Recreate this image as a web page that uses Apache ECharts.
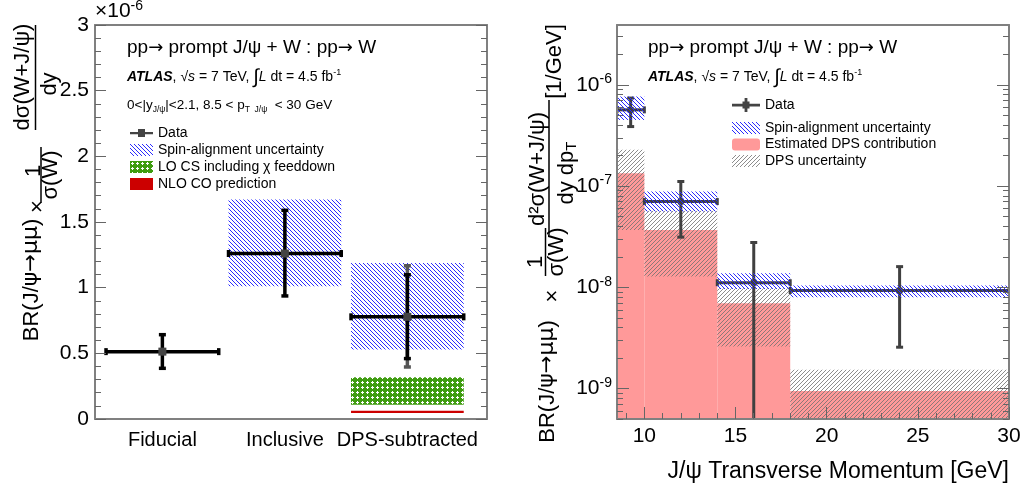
<!DOCTYPE html>
<html>
<head>
<meta charset="utf-8">
<script src="https://cdn.jsdelivr.net/npm/echarts@6/dist/echarts.min.js"></script>
<style>
  html, body { margin: 0; padding: 0; background: #fff; }
  #chart { width: 1023px; height: 493px; }
</style>
</head>
<body>
<div id="chart"></div>
<script>
const FONT = '"Liberation Sans", Arial, Helvetica, sans-serif';
const ARROW_FONT = '"DejaVu Sans", sans-serif';

// left panel: ratio per selection
const categories = ['Fiducial', 'Inclusive', 'DPS-subtracted'];
const catX = [0.55, 1.55, 2.55];
const catHalf = 0.46;
const ratio = [0.513, 1.26, 0.778];
const ratioLo = [0.386, 0.937, 0.46];
const ratioHi = [0.642, 1.589, 1.098];
const ratioTotLo = [null, null, 0.396];
const ratioTotHi = [null, null, 1.167];
const spinLoL = [null, 1.01, 0.53];
const spinHiL = [null, 1.672, 1.187];
const loCsLo = [null, null, 0.108];
const loCsHi = [null, null, 0.318];
const nloLo = [null, null, 0.045];
const nloHi = [null, null, 0.063];

// right panel: differential in pT
const ptLo = [8.5, 10, 14, 18];
const ptHi = [10, 14, 18, 30];
const ptMid = [9.25, 12, 16, 24];
const xs = [5.66e-7, 7.03e-8, 1.11e-8, 9.3e-9];
const xsLo = [3.87e-7, 3.13e-8, 1e-10, 2.56e-9];
const xsHi = [7.4e-7, 1.11e-7, 2.77e-8, 1.6e-8];
const spinLoR = [4.5e-7, 5.6e-8, 9.64e-9, 7.98e-9];
const spinHiR = [7.67e-7, 8.83e-8, 1.38e-8, 1.04e-8];
const dps = [1.34e-7, 3.69e-8, 6.97e-9, 9.46e-10];
const dpsLo = [3.69e-8, 1.28e-8, 2.6e-9, 3e-10];
const dpsHi = [2.28e-7, 5.7e-8, 9.8e-9, 1.53e-9];

// tick labels
const ptLabels = [10, 15, 20, 25, 30];
const ptMinor = [9, 11, 12, 13, 14, 16, 17, 18, 19, 21, 22, 23, 24, 26, 27, 28, 29];
const logLabels = [1e-9, 1e-8, 1e-7, 1e-6];
const logMinor = [];
[1e-10, 1e-9, 1e-8, 1e-7, 1e-6].forEach(d => {
  [2, 3, 4, 5, 6, 7, 8, 9].forEach(k => logMinor.push(k * d));
});

// fill patterns
function hatch(color, back, lw) {
  const c = document.createElement('canvas');
  c.width = c.height = 4;
  const g = c.getContext('2d');
  g.strokeStyle = color;
  g.lineWidth = lw;
  g.beginPath();
  if (back) {
    g.moveTo(-1, -1); g.lineTo(5, 5);
    g.moveTo(-1, 3); g.lineTo(1, 5);
    g.moveTo(3, -1); g.lineTo(5, 1);
  } else {
    g.moveTo(-1, 5); g.lineTo(5, -1);
    g.moveTo(-1, 1); g.lineTo(1, -1);
    g.moveTo(3, 5); g.lineTo(5, 3);
  }
  g.stroke();
  return { image: c, repeat: 'repeat' };
}
function dots() {
  const c = document.createElement('canvas');
  c.width = c.height = 5;
  const g = c.getContext('2d');
  g.fillStyle = '#3f9c10';
  g.fillRect(0, 0, 5, 5);
  g.fillStyle = '#ffffff';
  g.fillRect(2, 1, 1, 3);
  g.fillRect(1, 2, 3, 1);
  return { image: c, repeat: 'repeat' };
}
const blueHatch = hatch('#2a2aff', true, 1);
const grayHatch = hatch('#707070', false, 0.8);
const greenDots = dots();
const dpsRed = '#ff9999';
const nloRed = '#cc0000';

const frame = { show: true, onZero: false, lineStyle: { color: '#808080', width: 2 } };
const tickLine = { color: '#666', width: 1 };

// boxes [x0, x1, y0, y1]
function boxSeries(name, xi, yi, rows, fill, z) {
  return {
    name: name, type: 'custom', xAxisIndex: xi, yAxisIndex: yi, z: z, clip: true, silent: true,
    itemStyle: { color: fill },
    encode: { x: [0, 1], y: [2, 3] },
    data: rows,
    renderItem: function (params, api) {
      const a = api.coord([api.value(0), api.value(3)]);
      const b = api.coord([api.value(1), api.value(2)]);
      return { type: 'rect', shape: { x: a[0], y: a[1], width: b[0] - a[0], height: b[1] - a[1] }, style: { fill: fill } };
    }
  };
}

// points with error bars [xc, y, x0, x1, lo, hi]
function errSeries(name, xi, yi, rows, o) {
  return {
    name: name, type: 'custom', xAxisIndex: xi, yAxisIndex: yi, z: o.z, clip: true, silent: true,
    itemStyle: { color: o.color },
    encode: { x: [0, 2, 3], y: [1, 4, 5] },
    data: rows,
    renderItem: function (params, api) {
      const c = api.coord([api.value(0), api.value(1)]);
      const l = api.coord([api.value(2), api.value(1)]);
      const r = api.coord([api.value(3), api.value(1)]);
      const t = api.coord([api.value(0), api.value(5)]);
      const b = api.coord([api.value(0), api.value(4)]);
      const k = o.cap;
      const seg = (x1, y1, x2, y2) => ({ type: 'line', shape: { x1, y1, x2, y2 }, style: { stroke: o.color, lineWidth: o.lw } });
      const kids = [
        seg(c[0], t[1], c[0], b[1]),
        seg(c[0] - k, t[1], c[0] + k, t[1]),
        seg(c[0] - k, b[1], c[0] + k, b[1])
      ];
      if (o.horiz) {
        kids.push(seg(l[0], c[1], r[0], c[1]));
        kids.push(seg(l[0], c[1] - k, l[0], c[1] + k));
        kids.push(seg(r[0], c[1] - k, r[0], c[1] + k));
      }
      if (o.marker) {
        const m = o.marker;
        kids.push({ type: 'rect', shape: { x: c[0] - m / 2, y: c[1] - m / 2, width: m, height: m }, style: { fill: o.markerColor } });
      }
      return { type: 'group', children: kids };
    }
  };
}

const pick = (lo, hi) => catX.map((x, i) => lo[i] == null ? null : [x - catHalf, x + catHalf, lo[i], hi[i]]).filter(Boolean);

const leftData = catX.map((x, i) => [x, ratio[i], x - catHalf, x + catHalf, ratioLo[i], ratioHi[i]]);
const leftTot = catX.map((x, i) => ratioTotLo[i] == null ? null : [x, ratio[i], x, x, ratioTotLo[i], ratioTotHi[i]]).filter(Boolean);
const rightData = ptMid.map((x, i) => [x, xs[i], ptLo[i], ptHi[i], xsLo[i], xsHi[i]]);

const dpsSeries = {
  name: 'Estimated DPS contribution', type: 'custom', xAxisIndex: 2, yAxisIndex: 2, z: 2, clip: true, silent: true,
  itemStyle: { color: dpsRed },
  encode: { x: [0, 1], y: [2] },
  data: ptLo.map((x, i) => [x, ptHi[i], dps[i]]),
  renderItem: function (params, api) {
    const a = api.coord([api.value(0), api.value(2)]);
    const b = api.coord([api.value(1), api.value(2)]);
    const bottom = params.coordSys.y + params.coordSys.height;
    return { type: 'rect', shape: { x: a[0], y: a[1], width: b[0] - a[0], height: bottom - a[1] }, style: { fill: dpsRed } };
  }
};

// text helpers
const rs = (size, extra) => Object.assign({ fontSize: size, fontFamily: FONT, fill: '#000' }, extra || {});
function htext(x, y, text, size, rich, align) {
  return { type: 'text', x: x, y: y, silent: true, z: 20,
    style: { text: text, fontSize: size, fontFamily: FONT, fill: '#000', textAlign: align || 'left', textVerticalAlign: 'middle', rich: rich } };
}
function vtext(x, y, text, size, rich) {
  return { type: 'text', x: x, y: y, rotation: Math.PI / 2, silent: true, z: 20,
    style: { text: text, fontSize: size, fontFamily: FONT, fill: '#000', textAlign: 'center', textVerticalAlign: 'middle', rich: rich } };
}
function hline(x1, y1, x2, y2) {
  return { type: 'line', silent: true, z: 20, shape: { x1, y1, x2, y2 }, style: { stroke: '#000', lineWidth: 1.5 } };
}

const atlasRich = {
  b: rs(14, { fontWeight: 'bold', fontStyle: 'italic' }),
  i: rs(14, { fontStyle: 'italic' }),
  int: rs(20),
  sup: rs(9, { padding: [0, 0, 8, 0] })
};
const atlasText = '{b|ATLAS}, √{i|s} = 7 TeV, {int|∫}{i|L} dt = 4.5 fb{sup|-1}';
const procText = 'pp{a|→} prompt J/ψ + W : pp{a|→} W';
const procRich = { a: rs(18, { fontFamily: ARROW_FONT }) };
const brText = 'BR(J/{g|ψ}{a|→}{g|μμ})';
const brRich = { a: rs(21, { fontFamily: ARROW_FONT }), g: rs(22, { fontFamily: ARROW_FONT }) };
const subRich = { sub: rs(8.5, { padding: [9, 0, 0, 0] }) };

const dataIconL = 'path://M0,3H23V5.2H0Z M8,0H15V8H8Z';
const dataIconR = 'path://M0,5.8H28V8.4H0Z M12.6,0H15.4V14H12.6Z M10.5,3.6H17.5V10.6H10.5Z';

const chart = echarts.init(document.getElementById('chart'), null, { renderer: 'canvas' });

const option = {
  animation: false,
  backgroundColor: '#fff',
  textStyle: { fontFamily: FONT },
  grid: [
    { left: 95, top: 25, width: 392, height: 394, show: false, outerBoundsMode: 'none' },
    { left: 617, top: 25, width: 392, height: 394, show: false, outerBoundsMode: 'none' }
  ],
  xAxis: [
    { type: 'value', gridIndex: 0, min: 0, max: 3.2, position: 'bottom', z: 10,
      axisLine: frame, axisTick: { show: false }, splitLine: { show: false },
      axisLabel: { customValues: catX, fontSize: 20, color: '#000', margin: 11,
        formatter: v => categories[catX.findIndex(c => Math.abs(c - v) < 1e-6)] || '' } },
    { type: 'value', gridIndex: 0, min: 0, max: 3.2, position: 'top', z: 10,
      axisLine: frame, axisTick: { show: false }, axisLabel: { show: false }, splitLine: { show: false } },
    { type: 'value', gridIndex: 1, min: 8.5, max: 30, position: 'bottom', z: 10,
      axisLine: frame, splitLine: { show: false },
      axisTick: { show: true, inside: true, length: 12, customValues: ptLabels, lineStyle: tickLine },
      axisLabel: { customValues: ptLabels, fontSize: 21, color: '#000', margin: 7 },
      name: 'J/ψ Transverse Momentum [GeV]', nameLocation: 'end', nameGap: 0, nameMoveOverlap: false,
      nameTextStyle: { fontSize: 23, color: '#000', align: 'right', verticalAlign: 'top', padding: [41, 0, 0, 0] } },
    { type: 'value', gridIndex: 1, min: 8.5, max: 30, position: 'bottom', z: 10,
      axisLine: { show: false }, splitLine: { show: false }, axisLabel: { show: false },
      axisTick: { show: true, inside: true, length: 6, customValues: ptMinor, lineStyle: tickLine } },
    { type: 'value', gridIndex: 1, min: 8.5, max: 30, position: 'top', z: 10,
      axisLine: frame, axisTick: { show: false }, axisLabel: { show: false }, splitLine: { show: false } }
  ],
  yAxis: [
    { type: 'value', gridIndex: 0, min: 0, max: 3, interval: 0.5, position: 'left', z: 10,
      axisLine: frame, splitLine: { show: false },
      axisTick: { show: true, inside: true, length: 11, lineStyle: tickLine },
      minorTick: { show: true, splitNumber: 5, length: 6, lineStyle: tickLine },
      axisLabel: { fontSize: 21, color: '#000', margin: 6 } },
    { type: 'value', gridIndex: 0, min: 0, max: 3, interval: 0.5, position: 'right', z: 10,
      axisLine: frame, splitLine: { show: false }, axisLabel: { show: false },
      axisTick: { show: true, inside: true, length: 11, lineStyle: tickLine },
      minorTick: { show: true, splitNumber: 5, length: 6, lineStyle: tickLine } },
    { type: 'log', logBase: 10, gridIndex: 1, min: 5e-10, max: 3.9e-6, position: 'left', z: 10,
      axisLine: frame, splitLine: { show: false },
      axisTick: { show: true, inside: true, length: 12, customValues: logLabels, lineStyle: tickLine },
      axisLabel: { customValues: logLabels, color: '#000', margin: 5,
        formatter: v => '{b|10}{s|' + Math.round(Math.log10(v)) + '}',
        rich: { b: { fontSize: 21, fontFamily: FONT, color: '#000' },
                s: { fontSize: 14, fontFamily: FONT, color: '#000', padding: [0, 0, 11, 0] } } } },
    { type: 'log', logBase: 10, gridIndex: 1, min: 5e-10, max: 3.9e-6, position: 'left', z: 10,
      axisLine: { show: false }, splitLine: { show: false }, axisLabel: { show: false },
      axisTick: { show: true, inside: true, length: 6, customValues: logMinor, lineStyle: tickLine } },
    { type: 'log', logBase: 10, gridIndex: 1, min: 5e-10, max: 3.9e-6, position: 'right', z: 10,
      axisLine: frame, splitLine: { show: false }, axisLabel: { show: false },
      axisTick: { show: true, inside: true, length: 12, customValues: logLabels, lineStyle: tickLine } },
    { type: 'log', logBase: 10, gridIndex: 1, min: 5e-10, max: 3.9e-6, position: 'right', z: 10,
      axisLine: { show: false }, splitLine: { show: false }, axisLabel: { show: false },
      axisTick: { show: true, inside: true, length: 6, customValues: logMinor, lineStyle: tickLine } }
  ],
  legend: [
    { orient: 'vertical', left: 130, top: 126, padding: 0, itemGap: 3, itemWidth: 23, itemHeight: 12,
      selectedMode: false, textStyle: { fontSize: 14, color: '#000', fontFamily: FONT },
      data: [
        { name: 'Data', icon: dataIconL, itemStyle: { color: '#444', borderWidth: 0 } },
        { name: 'Spin-alignment uncertainty', icon: 'rect', itemStyle: { color: blueHatch, borderWidth: 0 } },
        { name: 'LO CS including χ feeddown', icon: 'rect', itemStyle: { color: greenDots, borderWidth: 0 } },
        { name: 'NLO CO prediction', icon: 'rect', itemStyle: { color: nloRed, borderWidth: 0 } }
      ] },
    { orient: 'vertical', left: 732, top: 98, padding: 0, itemWidth: 28, itemHeight: 14,
      selectedMode: false, textStyle: { fontSize: 14, color: '#000', fontFamily: FONT },
      data: [ { name: 'Data', icon: dataIconR, itemStyle: { color: '#444', borderWidth: 0 } } ] },
    { orient: 'vertical', left: 732, top: 121, padding: 0, itemGap: 2.5, itemWidth: 28, itemHeight: 12,
      selectedMode: false, textStyle: { fontSize: 14, color: '#000', fontFamily: FONT },
      data: [
        { name: 'Spin-alignment uncertainty', icon: 'rect', itemStyle: { color: blueHatch, borderWidth: 0 } },
        { name: 'Estimated DPS contribution', icon: 'roundRect', itemStyle: { color: dpsRed, borderWidth: 0 } },
        { name: 'DPS uncertainty', icon: 'rect', itemStyle: { color: grayHatch, borderWidth: 0 } }
      ] }
  ],
  series: [
    boxSeries('Spin-alignment uncertainty', 0, 0, pick(spinLoL, spinHiL), blueHatch, 2),
    boxSeries('LO CS including χ feeddown', 0, 0, pick(loCsLo, loCsHi), greenDots, 2),
    boxSeries('NLO CO prediction', 0, 0, pick(nloLo, nloHi), nloRed, 2),
    errSeries('Data (total)', 0, 0, leftTot, { z: 4, color: '#555', lw: 3.5, cap: 3.5, horiz: false }),
    errSeries('Data', 0, 0, leftData, { z: 5, color: '#000', lw: 3.5, cap: 3.5, horiz: true, marker: 8, markerColor: '#444' }),

    dpsSeries,
    boxSeries('DPS uncertainty', 2, 2, ptLo.map((x, i) => [x, ptHi[i], dpsLo[i], dpsHi[i]]), grayHatch, 3),
    errSeries('Data', 2, 2, rightData, { z: 4, color: '#404040', lw: 3, cap: 3.5, horiz: true, marker: 6, markerColor: '#404040' }),
    boxSeries('Spin-alignment uncertainty', 2, 2, ptLo.map((x, i) => [x, ptHi[i], spinLoR[i], spinHiR[i]]), blueHatch, 5)
  ],
  graphic: [
    // left panel labels
    htext(95, 11, '×10{s|-6}', 21, { s: rs(14, { padding: [0, 0, 10, 0] }) }),
    htext(127, 48, procText, 19, procRich),
    htext(127, 77, atlasText, 14, atlasRich),
    htext(127, 105, '0<|y{sub|J/ψ}|<2.1, 8.5 < p{sub|T  J/ψ}  < 30 GeV', 13.5, subRich),
    vtext(31.5, 280, brText, 22, brRich),
    vtext(37.5, 206.5, '×', 22),
    vtext(34, 171, '1', 22),
    vtext(50.5, 175, 'σ(W)', 22),
    hline(41, 147, 41, 203),
    vtext(23, 77, 'dσ(W+J/ψ)', 22),
    vtext(50, 84, 'dy', 22),
    hline(35.5, 25, 35.5, 130),

    // right panel labels
    htext(648, 48, procText, 19, procRich),
    htext(648, 77, atlasText, 14, atlasRich),
    vtext(547.5, 381.5, brText, 22, brRich),
    vtext(552.5, 296, '×', 22),
    vtext(535.5, 262, '1', 22),
    vtext(557, 252, 'σ(W)', 22),
    hline(545.5, 228, 545.5, 276),
    vtext(537.5, 169, 'd²σ(W+J/ψ)', 22),
    vtext(567, 173, 'dy dp{sub|T}', 22, { sub: rs(15, { padding: [10, 0, 0, 0] }) }),
    hline(549, 100, 549, 235),
    vtext(555, 61.5, '[1/GeV]', 22)
  ]
};

chart.setOption(option);
</script>
</body>
</html>
